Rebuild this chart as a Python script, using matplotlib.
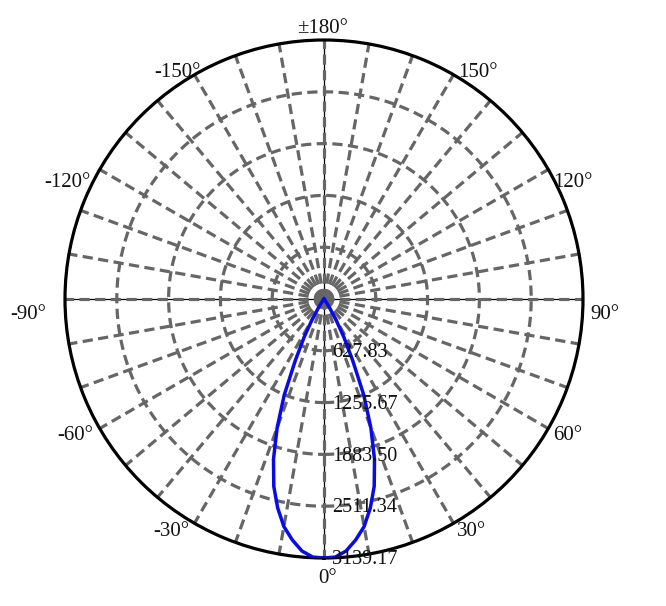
import numpy as np
import matplotlib
matplotlib.use("Agg")
import matplotlib.pyplot as plt

# ---- data ----
half_angles = [0, 2.5, 5, 7.5, 10, 12.5, 15, 17.5, 20, 22.5, 25, 27.5, 30, 32.5, 35, 40, 45, 90, 180]
half_values = [3139.17, 3131, 3066, 2945, 2800, 2594, 2351, 2036, 1660, 1260, 824, 521, 291, 121, 36, 12, 0, 0, 0]
ring_values = [627.83, 1255.67, 1883.50, 2511.34, 3139.17]
ring_labels = ["627.83", "1255.67", "1883.50", "2511.34", "3139.17"]
angle_ticks = [180, 150, 120, 90, 60, 30, 0, -30, -60, -90, -120, -150]
angle_labels = ["±180°", "150°", "120°", "90°", "60°", "30°", "0°", "-30°", "-60°", "-90°", "-120°", "-150°"]

# symmetric curve: negative side mirrored
ang = np.array([-a for a in half_angles[::-1]] + half_angles[1:], dtype=float)
val = np.array(half_values[::-1] + half_values[1:], dtype=float)

rmax = ring_values[-1]

plt.rcParams['font.family'] = ['Liberation Serif', 'DejaVu Serif']

fig = plt.figure(figsize=(6.66, 6.06), dpi=100)
ax = fig.add_axes([65/666, 48/606, 518/666, 518/606], projection='polar')
ax.set_theta_zero_location('S')
ax.set_theta_direction(1)
ax.set_ylim(0, rmax)
ax.set_xticks([])
ax.set_yticks([])
ax.grid(False)

grid_col = '#666666'
dash = (3.2, 1.7)
# thin solid cross through the centre
for a in [0, 90, 180, 270]:
    th = np.deg2rad(a)
    ax.plot([th, th], [0, rmax], color='black', lw=0.9, zorder=1)
# spokes every 10 deg
for a in range(0, 360, 10):
    th = np.deg2rad(a)
    ax.plot([th, th], [0, rmax], color=grid_col, lw=2.3, dashes=dash, zorder=2)
# rings
tt = np.linspace(0, 2*np.pi, 721)
for rv in ring_values[:-1]:
    ax.plot(tt, np.full_like(tt, rv), color=grid_col, lw=2.3, dashes=dash, zorder=2)

ax.spines['polar'].set_color('black')
ax.spines['polar'].set_linewidth(2.3)

# curve
ax.plot(np.deg2rad(ang), val, color='#0a0ae6', lw=2.5, zorder=5)

# radial labels
for rv, lab in zip(ring_values, ring_labels):
    ax.annotate(lab, xy=(0, rv), xytext=(6, -1.2), textcoords='offset points',
                ha='left', va='center', fontsize=14.5, color='#111111', zorder=6)

# angle labels
offsets = {180: (-0.7, 8.0), 150: (17.6, 1.6), 120: (18, -9.5), 90: (15.8, -11.3),
           60: (13.7, -5.2), 30: (13.3, -6.2), 0: (2.9, -14.8), -30: (-16.9, -6.2),
           -60: (-18, -5.2), -90: (-26.6, -11.3), -120: (-23, -9.5), -150: (-12.6, 1.6)}
for a, lab in zip(angle_ticks, angle_labels):
    ax.annotate(lab, xy=(np.deg2rad(a), rmax), xytext=offsets[a], textcoords='offset points',
                ha='center', va='center', fontsize=15, color='#111111',
                annotation_clip=False)

fig.savefig('out.png', dpi=100)
